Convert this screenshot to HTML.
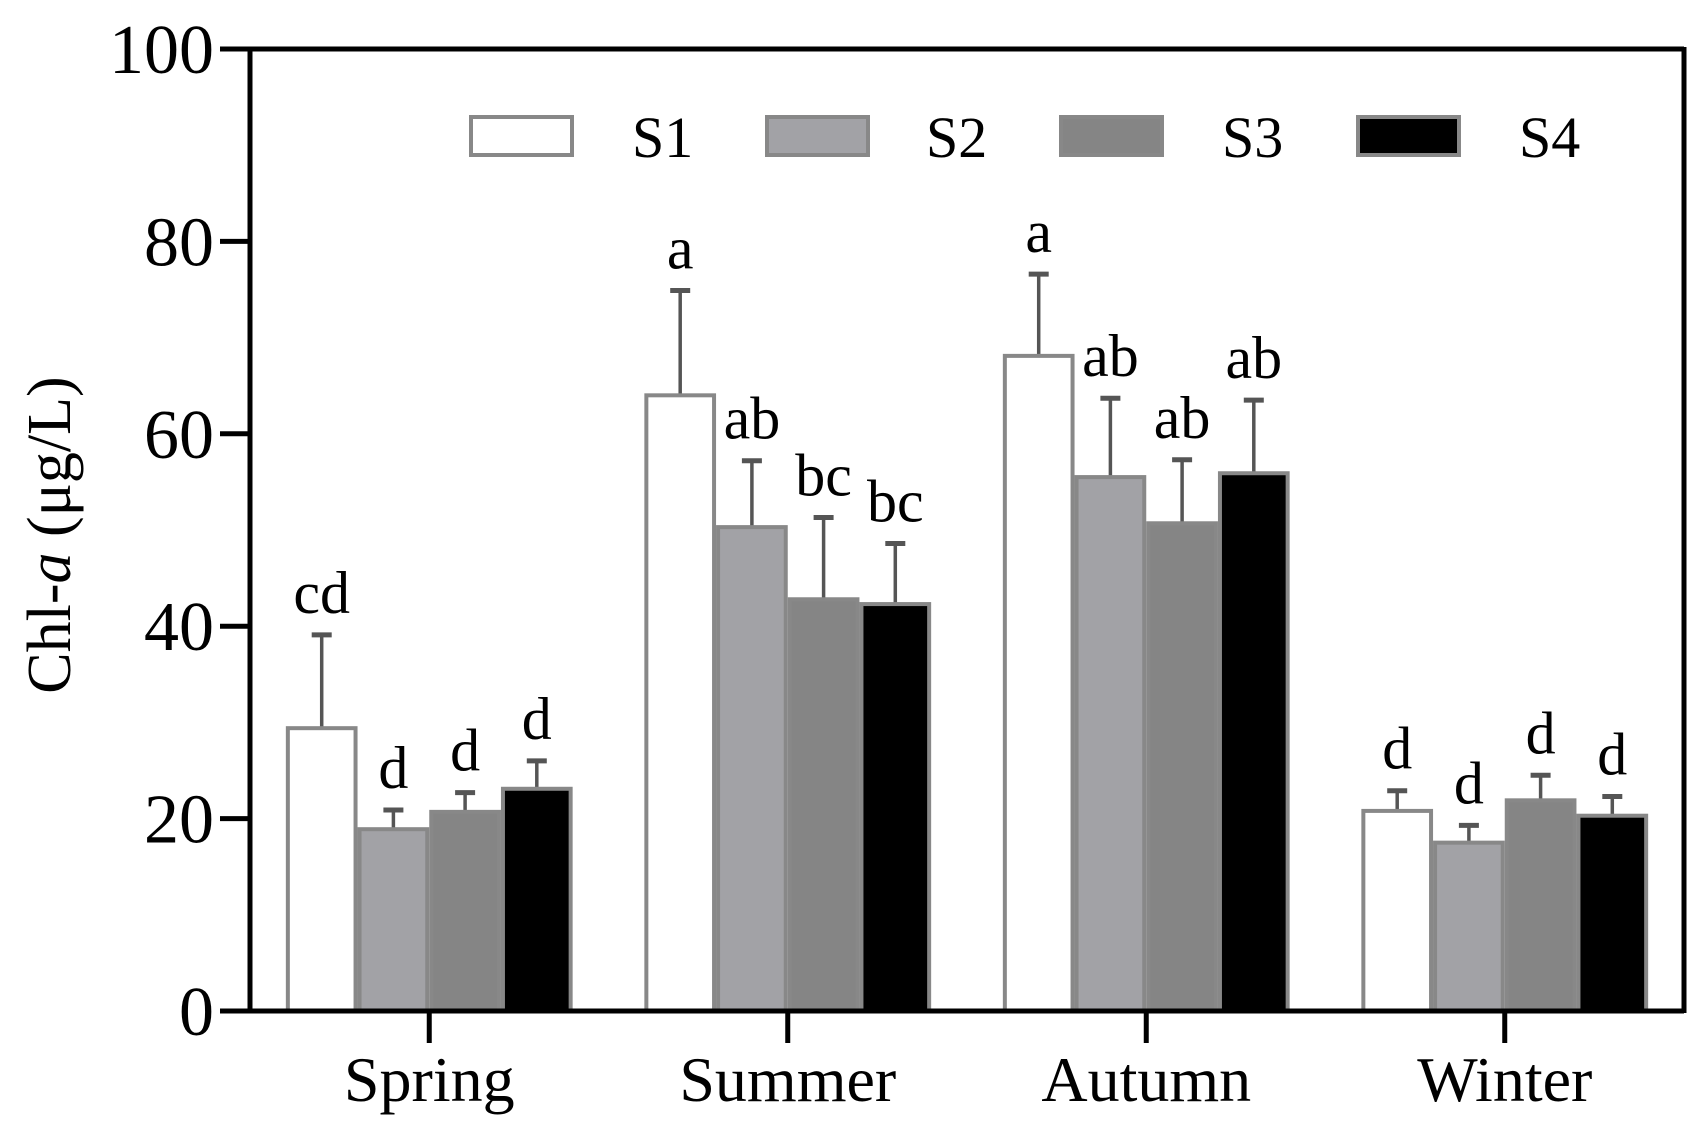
<!DOCTYPE html>
<html><head><meta charset="utf-8"><style>
html,body{margin:0;padding:0;background:#fff;}
svg{display:block;font-family:"Liberation Serif",serif;}
</style></head><body>
<svg id="chart" width="1704" height="1135" viewBox="0 0 1704 1135" xmlns="http://www.w3.org/2000/svg"></svg>
<script>
const categories = ["Spring","Summer","Autumn","Winter"];
const seriesNames = ["S1","S2","S3","S4"];
const s1 = [29.4, 64.0, 68.1, 20.8];
const s2 = [18.9, 50.3, 55.5, 17.5];
const s3 = [20.7, 42.8, 50.7, 21.9];
const s4 = [23.1, 42.3, 55.9, 20.3];
const s1Err = [9.7, 10.9, 8.5, 2.1];
const s2Err = [2.0, 6.9, 8.2, 1.8];
const s3Err = [2.0, 8.5, 6.6, 2.6];
const s4Err = [2.9, 6.3, 7.6, 2.0];
const s1Lab = ["cd","a","a","d"];
const s2Lab = ["d","ab","ab","d"];
const s3Lab = ["d","bc","ab","d"];
const s4Lab = ["d","bc","ab","d"];
const yTicks = [0,20,40,60,80,100];

const NS="http://www.w3.org/2000/svg";
const svg=document.getElementById('chart');
const X0=250,X1=1684,Y0=1011,Y1=49;
const yS=v=>Y0-(v/100)*(Y0-Y1);
const band=(X1-X0)/categories.length;
const bw=band*0.2;
const xC=i=>X0+band*(i+0.5);
function mk(t,a,p){const e=document.createElementNS(NS,t);for(const k in a)e.setAttribute(k,a[k]);(p||svg).appendChild(e);return e;}
const fills=["#ffffff","#a2a2a6","#858585","#000000"];
const vals=[s1,s2,s3,s4],errs=[s1Err,s2Err,s3Err,s4Err],labs=[s1Lab,s2Lab,s3Lab,s4Lab];

for(let s=0;s<4;s++){for(let i=0;i<categories.length;i++){
  const x=xC(i)-2*bw+s*bw, v=vals[s][i], e=errs[s][i];
  const g=mk('g',{});
  
  
  mk('line',{x1:x+bw/2,x2:x+bw/2,y1:yS(v),y2:yS(v+e),stroke:'#555',"stroke-width":3.5},g);
  mk('line',{x1:x+bw/2-10,x2:x+bw/2+10,y1:yS(v+e),y2:yS(v+e),stroke:'#555',"stroke-width":5},g);
  mk('rect',{x:x+2,y:yS(v),width:bw-4,height:Y0-yS(v),fill:fills[s],stroke:'#888',"stroke-width":4},g);
  const t=mk('text',{x:x+bw/2,y:yS(v+e)-22,"text-anchor":"middle","font-size":60},g);
  t.textContent=labs[s][i];
}}
const ax=mk('g',{});


mk('line',{x1:X0,x2:X0,y1:Y1-2,y2:Y0+2,stroke:'#000',"stroke-width":5},ax);
mk('line',{x1:X0-2,x2:X1,y1:Y0,y2:Y0,stroke:'#000',"stroke-width":5},ax);
mk('line',{x1:X0-30,x2:X1,y1:Y1,y2:Y1,stroke:'#000',"stroke-width":5},ax);
mk('line',{x1:X1,x2:X1,y1:Y1-2,y2:Y0+2,stroke:'#000',"stroke-width":5},ax);
for(const v of yTicks){
  mk('line',{x1:X0-30,x2:X0,y1:yS(v),y2:yS(v),stroke:'#000',"stroke-width":5},ax);
  const t=mk('text',{x:X0-36,y:yS(v)+24,"text-anchor":"end","font-size":70},ax);
  
  
  t.textContent=v;
}
categories.forEach((c,i)=>{
  mk('line',{x1:xC(i),x2:xC(i),y1:Y0,y2:Y0+32,stroke:'#000',"stroke-width":5},ax);
  const t=mk('text',{x:xC(i),y:1101,"text-anchor":"middle","font-size":64},ax);
  
  
  t.textContent=c;
});
</script>
<svg style="position:absolute;left:0;top:0" width="1704" height="1135">
<text transform="translate(70,535) rotate(-90)" text-anchor="middle" font-size="62" font-family="Liberation Serif, serif">Chl-<tspan font-style="italic">a</tspan> (μg/L)</text>
<g font-family="Liberation Serif, serif" font-size="58">
 <g><rect x="471" y="117" width="101" height="38" fill="#fff" stroke="#888" stroke-width="4"/><text x="632" y="157">S1</text></g>
 <g><rect x="767" y="117" width="101" height="38" fill="#a2a2a6" stroke="#888" stroke-width="4"/><text x="926" y="157">S2</text></g>
 <g><rect x="1061" y="117" width="101" height="38" fill="#858585" stroke="#888" stroke-width="4"/><text x="1222" y="157">S3</text></g>
 <g><rect x="1358" y="117" width="101" height="38" fill="#000" stroke="#888" stroke-width="4"/><text x="1519" y="157">S4</text></g>
</g>
</svg>
</body></html>
